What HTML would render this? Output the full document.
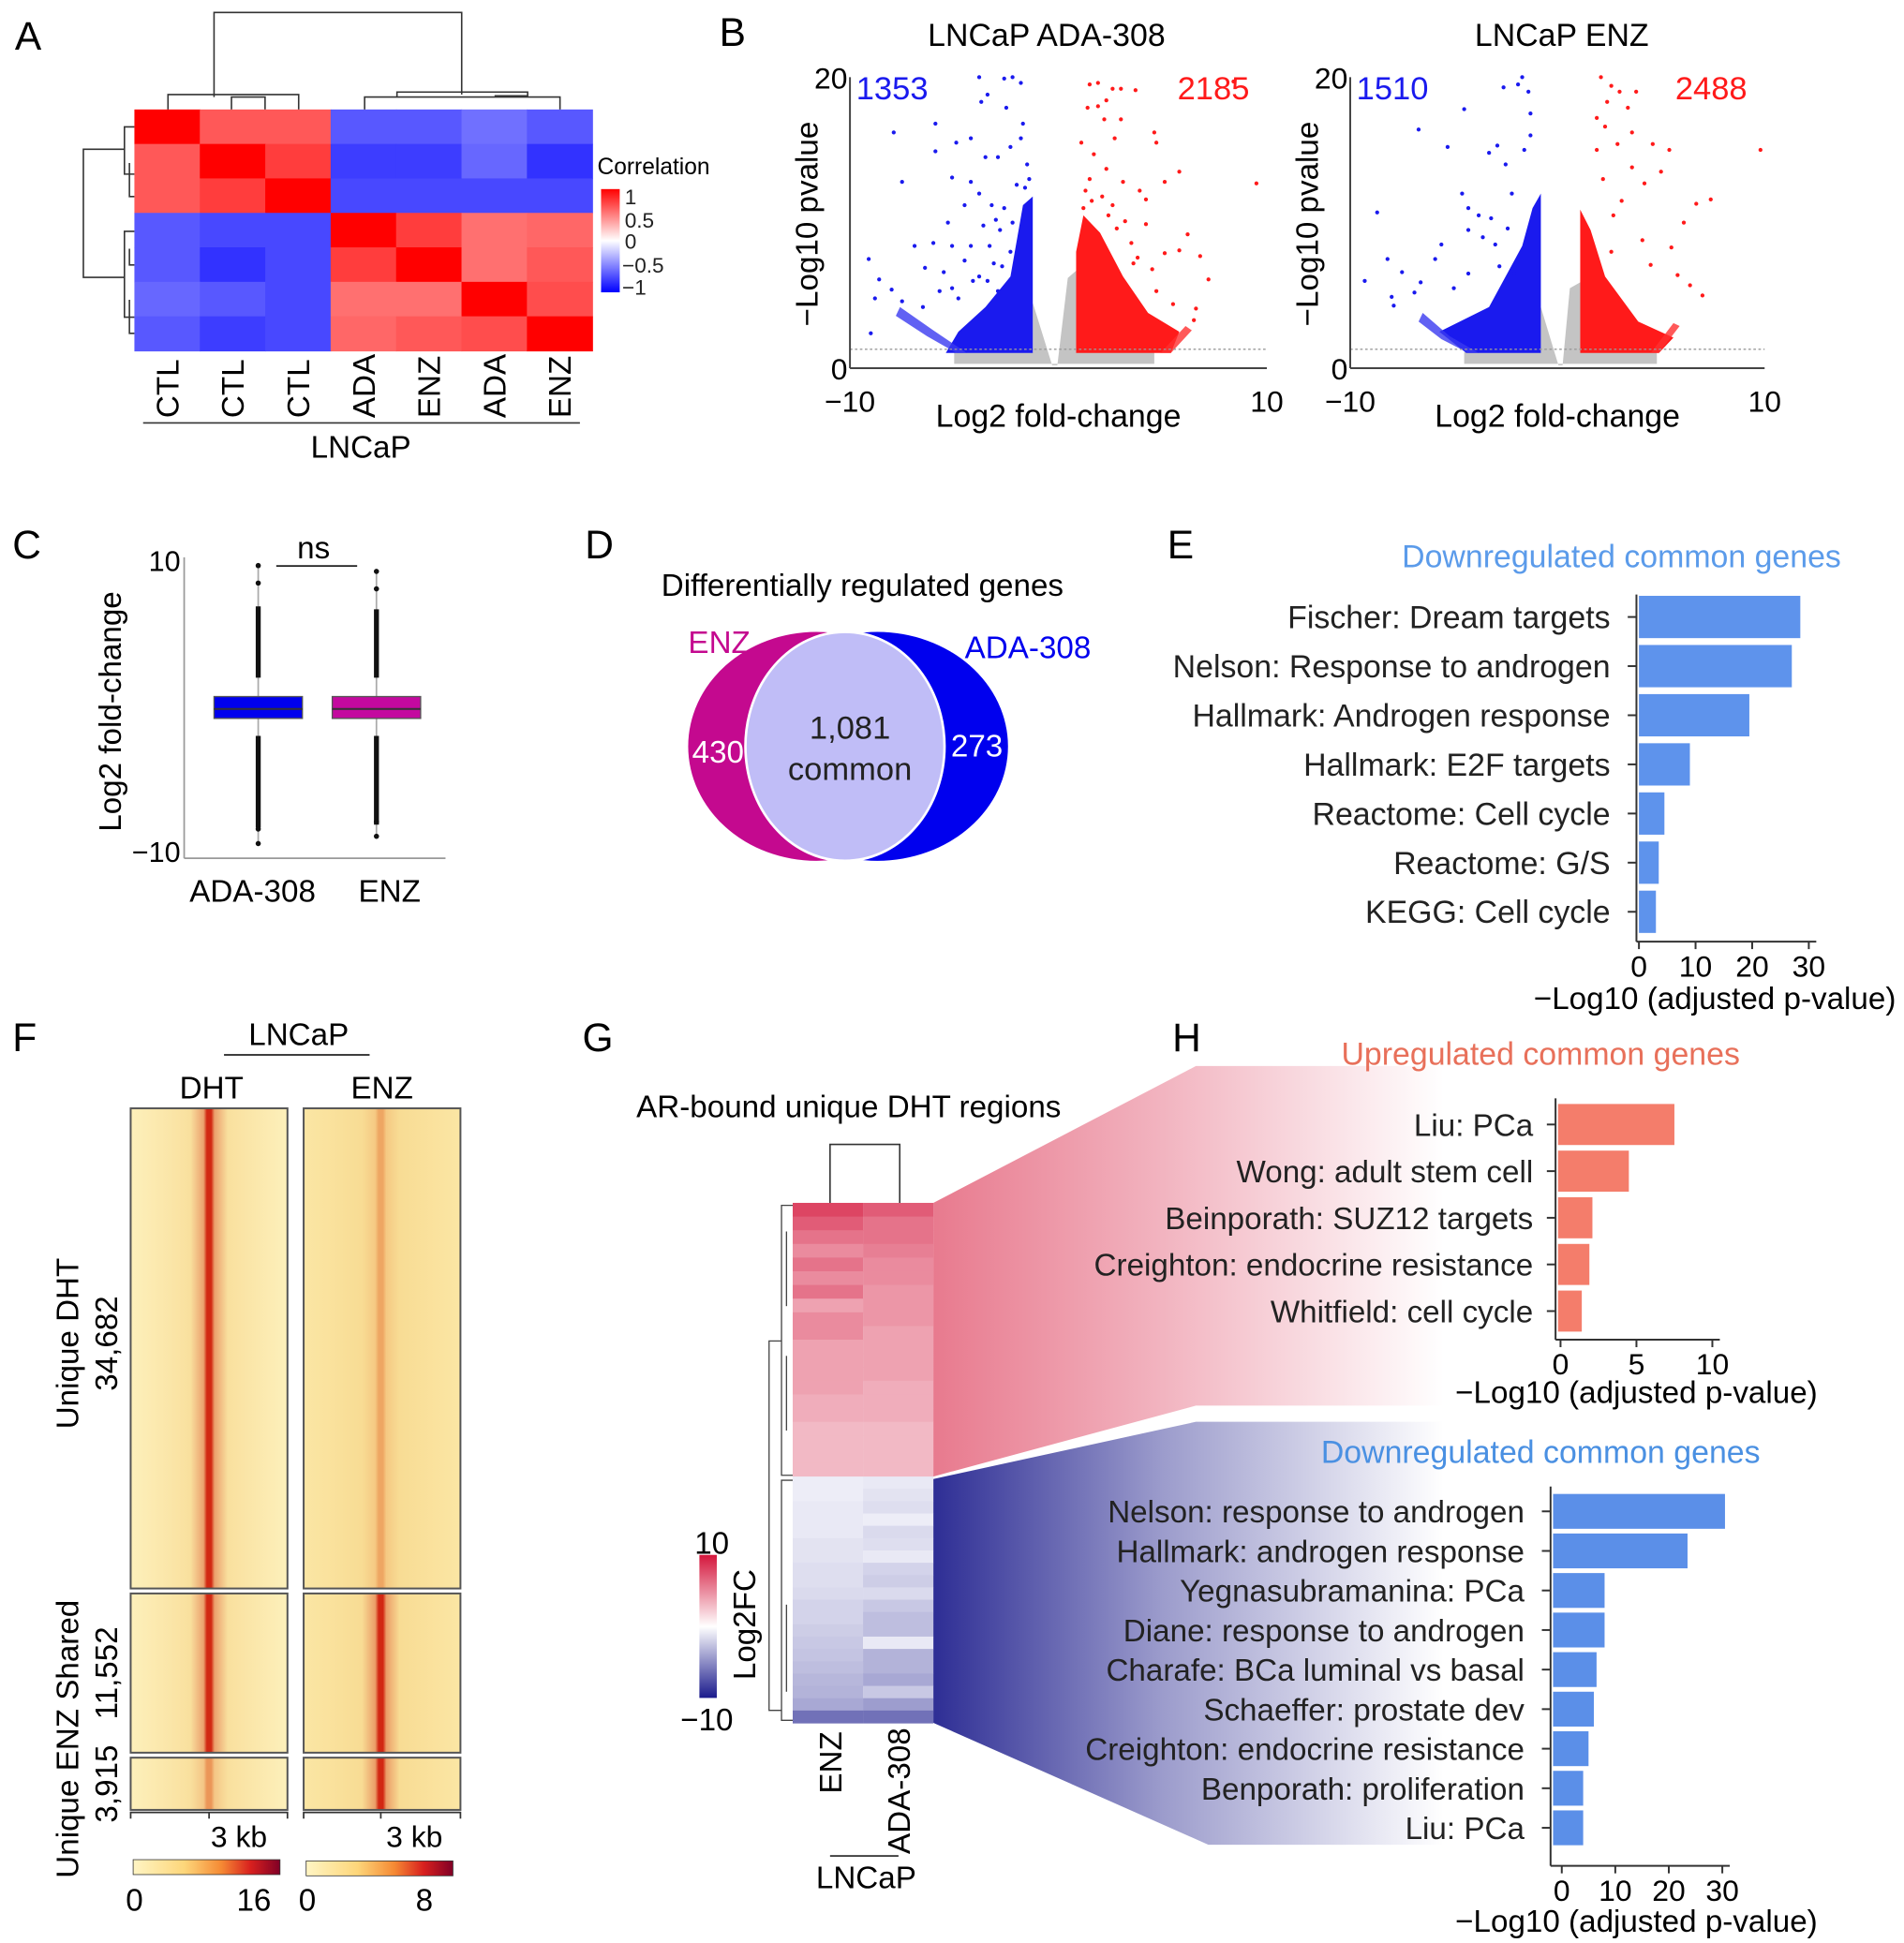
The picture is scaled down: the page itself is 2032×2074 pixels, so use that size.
<!DOCTYPE html>
<html><head><meta charset="utf-8"><style>
html,body{margin:0;padding:0;background:#fff;}
svg{display:block;font-family:"Liberation Sans",sans-serif;}
</style></head><body>
<svg id="fig" width="2032" height="2074" viewBox="0 0 1530 1562" preserveAspectRatio="none" xmlns="http://www.w3.org/2000/svg">
<defs>
<linearGradient id="corrBar" x1="0" y1="0" x2="0" y2="1"><stop offset="0" stop-color="#ff0000"/><stop offset="0.5" stop-color="#ffffff"/><stop offset="1" stop-color="#0000ff"/></linearGradient>
<linearGradient id="lfcBar" x1="0" y1="0" x2="0" y2="1"><stop offset="0" stop-color="#d4163c"/><stop offset="0.5" stop-color="#ffffff"/><stop offset="1" stop-color="#1a1a8c"/></linearGradient>
<linearGradient id="heatBar" x1="0" y1="0" x2="1" y2="0"><stop offset="0" stop-color="#fff5c4"/><stop offset="0.35" stop-color="#fdd67a"/><stop offset="0.6" stop-color="#f58a34"/><stop offset="0.8" stop-color="#d8201e"/><stop offset="1" stop-color="#800026"/></linearGradient>
<linearGradient id="pinkFunnel" x1="0" y1="0" x2="1" y2="0"><stop offset="0" stop-color="#e87a8e"/><stop offset="0.45" stop-color="#f2b4c0"/><stop offset="1" stop-color="#ffffff"/></linearGradient>
<linearGradient id="blueFunnel" x1="0" y1="0" x2="1" y2="0"><stop offset="0" stop-color="#2e2e95"/><stop offset="0.45" stop-color="#9c9ccc"/><stop offset="1" stop-color="#ffffff"/></linearGradient>
</defs>

<text x="12" y="40" font-size="32">A</text>
<text x="578" y="37" font-size="32">B</text>
<text x="10" y="449" font-size="32">C</text>
<text x="470" y="449" font-size="32">D</text>
<text x="938" y="449" font-size="32">E</text>
<text x="10" y="845" font-size="32">F</text>
<text x="468" y="845" font-size="32">G</text>
<text x="942" y="845" font-size="32">H</text>

<g id="panelA">
 <g stroke="#333" stroke-width="1.2" fill="none">
  <path d="M172 78 V10 H371 V76"/>
  <path d="M135 88 V76 H240 V88"/><path d="M186 88 V78 H213 V88"/>
  <path d="M293 88 V78 H450 V88"/><path d="M319 78 V74 H424 V78"/><path d="M398 78 V77 H424"/>
 </g>
 <g stroke="#333" stroke-width="1.2" fill="none">
  <path d="M100 120 H67 V223 H100"/>
  <path d="M108 102 H100 V140 H108"/><path d="M104 131 V158 H108"/>
  <path d="M108 186 H100 V255 H108"/><path d="M104 200 V213 H108"/><path d="M104 241 V268 H108"/>
 </g>
 <g id="corrCells"></g>
 <text x="480" y="140" font-size="18.5">Correlation</text>
 <rect x="483" y="152" width="15" height="83" fill="url(#corrBar)"/>
 <g font-size="17" fill="#222">
  <text x="502" y="164">1</text><text x="502" y="183">0.5</text><text x="502" y="200">0</text><text x="500" y="219">−0.5</text><text x="500" y="237">−1</text>
 </g>
 <g id="corrLabels" font-size="25"></g>
 <line x1="115" y1="340" x2="466" y2="340" stroke="#333" stroke-width="1.2"/>
 <text x="290" y="368" font-size="25" text-anchor="middle">LNCaP</text>
</g>

<g>
 <text x="841" y="37" font-size="25.5" text-anchor="middle">LNCaP ADA-308</text>
 <text x="1255" y="37" font-size="25.5" text-anchor="middle">LNCaP ENZ</text>
 <g id="volc1"></g><g id="volc2"></g>
</g>

<g id="panelC">
 <text transform="translate(97,572) rotate(-90)" font-size="25" text-anchor="middle">Log2 fold-change</text>
 <line x1="148" y1="448" x2="148" y2="690" stroke="#999" stroke-width="1.3"/>
 <line x1="148" y1="690" x2="358" y2="690" stroke="#999" stroke-width="1.3"/>
 <text x="145" y="459" font-size="23" text-anchor="end">10</text>
 <text x="145" y="693" font-size="23" text-anchor="end">−10</text>
 <line x1="222" y1="455" x2="287" y2="455" stroke="#222" stroke-width="1.3"/>
 <text x="252" y="449" font-size="25" text-anchor="middle">ns</text>
 <g id="boxes"></g>
 <text x="203" y="725" font-size="25" text-anchor="middle">ADA-308</text>
 <text x="313" y="725" font-size="25" text-anchor="middle">ENZ</text>
</g>

<g>
 <text x="693" y="479" font-size="25" text-anchor="middle">Differentially regulated genes</text>
 <ellipse cx="656" cy="600" rx="103" ry="92" fill="#c4098f"/>
 <ellipse cx="705" cy="600" rx="105" ry="92" fill="#0000ee"/>
 <ellipse cx="679" cy="600" rx="80" ry="92" fill="#c0bdf7" stroke="#ffffff" stroke-width="2"/>
 <text x="553" y="525" font-size="25" fill="#c4098f">ENZ</text>
 <text x="826" y="529" font-size="25" fill="#0000ee" text-anchor="middle">ADA-308</text>
 <text x="577" y="613" font-size="25" fill="#fff" text-anchor="middle">430</text>
 <text x="785" y="608" font-size="25" fill="#fff" text-anchor="middle">273</text>
 <text x="683" y="594" font-size="26" fill="#222" text-anchor="middle">1,081</text>
 <text x="683" y="627" font-size="26" fill="#222" text-anchor="middle">common</text>
</g>

<g id="panelE">
 <text x="1303" y="456" font-size="25.5" fill="#5b9bea" text-anchor="middle">Downregulated common genes</text>
 <text x="1378" y="811" font-size="25" text-anchor="middle">−Log10 (adjusted p-value)</text>
</g>

<g id="panelF">
 <text x="240" y="840" font-size="25" text-anchor="middle">LNCaP</text>
 <line x1="180" y1="848" x2="297" y2="848" stroke="#222" stroke-width="1.3"/>
 <text x="170" y="883" font-size="25" text-anchor="middle">DHT</text>
 <text x="307" y="883" font-size="25" text-anchor="middle">ENZ</text>
 <g id="fHeat"></g>
 <text x="192" y="1485" font-size="24" text-anchor="middle">3 kb</text>
 <text x="333" y="1485" font-size="24" text-anchor="middle">3 kb</text>
 <rect x="107" y="1495" width="118" height="12" fill="url(#heatBar)" stroke="#333" stroke-width="0.6"/>
 <rect x="246" y="1496" width="118" height="12" fill="url(#heatBar)" stroke="#333" stroke-width="0.6"/>
 <text x="108" y="1536" font-size="25" text-anchor="middle">0</text>
 <text x="204" y="1536" font-size="25" text-anchor="middle">16</text>
 <text x="247" y="1536" font-size="25" text-anchor="middle">0</text>
 <text x="341" y="1536" font-size="25" text-anchor="middle">8</text>
 <text transform="translate(63,1080) rotate(-90)" font-size="25" text-anchor="middle">Unique DHT</text>
 <text transform="translate(94,1080) rotate(-90)" font-size="25" text-anchor="middle">34,682</text>
 <text transform="translate(63,1398) rotate(-90)" font-size="25" text-anchor="middle">Unique ENZ Shared</text>
 <text transform="translate(94,1345) rotate(-90)" font-size="25" text-anchor="middle">11,552</text>
 <text transform="translate(94,1434) rotate(-90)" font-size="25" text-anchor="middle">3,915</text>
</g>

<polygon points="750,967 961,857 1160,857 1160,1130 961,1130 750,1187" fill="url(#pinkFunnel)"/>
<polygon points="750,1189 961,1143 1160,1143 1160,1483 971,1483 750,1385" fill="url(#blueFunnel)"/>

<g id="panelG">
 <text x="682" y="898" font-size="25" text-anchor="middle">AR-bound unique DHT regions</text>
 <path d="M667 967 V920 H723 V967" stroke="#333" fill="none" stroke-width="1.2"/>
 <g stroke="#444" stroke-width="1" fill="none">
  <path d="M628 1078 H618 V1375 H628"/><path d="M637 969 H628 V1186 H637"/><path d="M637 1190 H628 V1383 H637"/>
  <path d="M632 990 V1050"/><path d="M632 1090 V1150"/><path d="M632 1290 V1360"/>
 </g>
 <g id="gCells"></g>
 <rect x="562" y="1250" width="14" height="115" fill="url(#lfcBar)"/>
 <text x="572" y="1249" font-size="25" text-anchor="middle">10</text>
 <text x="568" y="1391" font-size="25" text-anchor="middle">−10</text>
 <text transform="translate(607,1306) rotate(-90)" font-size="25" text-anchor="middle">Log2FC</text>
 <text transform="translate(676,1392) rotate(-90)" font-size="25" text-anchor="end">ENZ</text>
 <text transform="translate(731,1389) rotate(-90)" font-size="25" text-anchor="end">ADA-308</text>
 <line x1="667" y1="1492" x2="722" y2="1492" stroke="#222" stroke-width="1.3"/>
 <text x="696" y="1518" font-size="25" text-anchor="middle">LNCaP</text>
</g>

<g id="panelH">
 <text x="1238" y="856" font-size="25.5" fill="#e8705a" text-anchor="middle">Upregulated common genes</text>
 <text x="1315" y="1128" font-size="25" text-anchor="middle">−Log10 (adjusted p-value)</text>
 <text x="1238" y="1176" font-size="25.5" fill="#4a90e2" text-anchor="middle">Downregulated common genes</text>
 <text x="1315" y="1553" font-size="25" text-anchor="middle">−Log10 (adjusted p-value)</text>
</g>
</svg>

<script>
const corrLabels = ["CTL","CTL","CTL","ADA","ENZ","ADA","ENZ"];
const corrRow1 = [1,0.85,0.85,-0.85,-0.85,-0.8,-0.85];
const corrRow2 = [0.85,1,0.9,-0.9,-0.9,-0.82,-0.92];
const corrRow3 = [0.85,0.9,1,-0.88,-0.88,-0.88,-0.88];
const corrRow4 = [-0.85,-0.88,-0.88,1,0.9,0.8,0.82];
const corrRow5 = [-0.85,-0.92,-0.88,0.9,1,0.8,0.85];
const corrRow6 = [-0.82,-0.85,-0.88,0.8,0.8,1,0.87];
const corrRow7 = [-0.85,-0.9,-0.88,0.82,0.85,0.87,1];
const corrRows = [corrRow1,corrRow2,corrRow3,corrRow4,corrRow5,corrRow6,corrRow7];

const volcTicksX = [-10,10];
const volcTicksY = [0,20];
const adaCounts = [1353,2185];
const enzCounts = [1510,2488];
const pThreshold = 1.3;
const adaBlueDense = [[-1.23,1.05],[-1.23,11.8],[-1.7,11.2],[-2.3,6.3],[-3.5,4.2],[-4.8,2.5],[-5.4,1.05]];
const adaBlueArm = [[-7.6,4.2],[-6,2.6],[-4.4,1.05],[-4.9,1.05],[-6.3,2.2],[-7.8,3.6]];
const adaRedDense = [[0.85,1.05],[0.85,8],[1.2,10.5],[2,9.3],[3.1,6.3],[4.3,3.8],[5.8,2.5],[5.4,1.05]];
const adaRedArm = [[5.4,1.05],[6.4,2.6],[6.1,2.9],[4.9,1.05]];
const adaGray = [[-5,1.1],[-5,0.3],[4.6,0.3],[4.6,1.1],[0.85,1.1],[0.85,6.7],[0.45,6.2],[-0.05,0.2],[-0.3,0.2],[-1.23,4.5],[-1.23,1.1]];
const adaBluePts = [[-3.8,20],[-2.6,19.9],[-2.2,20],[-1.8,19.6],[-3.4,18.8],[-3.7,18.3],[-2.5,17.9],[-5.9,16.8],[-7.9,16.2],[-4.2,15.8],[-4.9,15.5],[-5.9,14.9],[-3.5,14.5],[-2.9,14.5],[-7.5,12.8],[-5.1,13.1],[-4.2,12.8],[-3.8,12],[-3.2,11.2],[-4.5,11.2],[-5.3,10],[-6.9,8.4],[-6,8.6],[-5.1,8.4],[-4.2,8.4],[-3.3,8.4],[-9.1,7.5],[-8.6,6.1],[-8,5.4],[-8.8,4.8],[-6.4,6.9],[-5.5,6.6],[-5.7,5.3],[-5.1,5.5],[-9,2.4],[-7.5,4.6],[-4.5,7.4],[-3.8,6.3],[-3.1,7.2],[-2.3,8],[-2.2,10],[-2,12.6],[-2.3,15.2],[-1.7,16.8],[-1.8,15.8],[-2.8,9.5],[-3.6,9.8],[-4.1,6],[-2.9,5.3],[-6.5,4.2],[-1.5,14],[-1.4,13],[-1.6,12.4],[-2.6,11],[-3,10.2],[-4.8,4.8],[-2.7,7],[-3.4,6]];
const adaRedPts = [[1.5,19.5],[1.9,19.6],[2.6,19.2],[3,19.2],[3.7,19.1],[8.4,19.7],[1.4,17.9],[1.9,18],[2.3,18.4],[2.2,17.1],[3,17.1],[2.7,15.8],[4.6,16.2],[4.7,15.5],[1.1,15.5],[1.7,14.7],[5.8,13.5],[5.1,12.8],[9.5,12.7],[2.3,13.7],[3.1,12.8],[3.9,12.2],[4.2,11.6],[2.6,11.2],[3.2,10.1],[4.2,9.9],[6.2,9.2],[5.1,7.9],[5.8,8.1],[6.8,7.7],[7.2,6.1],[6.6,4.1],[5.5,4.4],[6.5,3.3],[3.5,8.6],[3.8,7.6],[1.5,13],[2.1,11.8],[1.3,12.2],[4.5,6.8],[1.2,11],[1.6,11.5],[2.4,10.5],[2.8,9.6],[3.6,7.2],[4.7,5.3]];
const enzBlueDense = [[-0.8,1.05],[-0.8,12],[-1.2,11],[-1.7,8.4],[-3.3,4.2],[-5.7,2.5],[-4.4,1.05]];
const enzBlueArm = [[-6.5,3.8],[-5.2,2.2],[-3.8,1.05],[-4.3,1.05],[-5.6,2],[-6.7,3.2]];
const enzRedDense = [[1.1,1.05],[1.1,10.9],[1.6,9.5],[2.3,6.3],[3.9,3.2],[5.6,2.1],[4.9,1.05]];
const enzRedArm = [[4.9,1.05],[5.9,2.9],[5.6,3.1],[4.5,1.05]];
const enzGray = [[-4.5,1.1],[-4.5,0.3],[4.8,0.3],[4.8,1.1],[1.1,1.1],[1.1,5.9],[0.6,5.5],[0.25,0.2],[0.05,0.2],[-0.8,4.2],[-0.8,1.1]];
const enzBluePts = [[-1.7,20],[-2.6,19.3],[-1.9,19.5],[-1.4,19],[-1.3,17.5],[-1.3,16],[-4.5,17.8],[-6.7,16.4],[-2.9,15.3],[-5.3,15.2],[-3.3,14.8],[-2.5,14],[-1.6,15],[-4.6,12],[-4.3,11],[-3.8,10.5],[-3.2,10.3],[-2.2,12],[-8.7,10.7],[-4.3,9.5],[-3.6,9],[-3.0,8.5],[-2.4,9.6],[-8.2,7.5],[-9.3,6],[-7.5,6.6],[-5.6,8.5],[-5.9,7.5],[-6.6,5.9],[-8,4.9],[-4.3,6.5],[-2.8,7],[-2.1,6.5],[-5,5.5],[-7.9,4.3],[-6.9,5.2]];
const enzRedPts = [[2.1,20],[2.6,19.4],[3.0,19.0],[3.8,19],[2.4,18.3],[1.9,17.2],[3.4,17.9],[2.3,16.6],[3.6,16.2],[1.9,15],[2.9,15.4],[4.6,15.4],[5.4,15],[9.8,15],[5,13.5],[2.2,13],[3.6,13.8],[4.2,12.7],[6.7,11.3],[6.1,10],[7.4,11.6],[2.7,10.5],[3.1,11.5],[4.1,8.8],[5.5,8.3],[4.5,7.1],[6.4,5.7],[7.0,5.0],[5.8,6.4],[2.6,8.0]];

const boxGroups = ["ADA-308","ENZ"];
const boxQ1 = [-0.9,-0.9];
const boxQ3 = [0.6,0.6];
const boxMedian = [-0.25,-0.25];
const boxWhiskLo = [-9.5,-9.0];
const boxWhiskHi = [9.6,9.2];
const boxOutHiStart = [1.9,1.9];
const boxOutHiEnd = [6.8,6.6];
const boxOutLoStart = [-2.1,-2.1];
const boxOutLoEnd = [-8.4,-8.2];
const boxColors = ["#0000ee","#c4099f"];

const eTerms = ["Fischer: Dream targets","Nelson: Response to androgen","Hallmark: Androgen response","Hallmark: E2F targets","Reactome: Cell cycle","Reactome: G/S","KEGG: Cell cycle"];
const eValues = [28.5,27,19.5,9,4.5,3.5,3];
const eTicks = [0,10,20,30];

const fSections = ["Unique DHT","Shared","Unique ENZ"];
const fDhtPeak = [0.95,0.95,0.3];
const fEnzPeak = [0.2,0.95,0.95];

const gEnz = [8,7,6,5,6,5,6,4,5,5,4,4,4,4,3.5,3.5,3,3,3,3,-0.3,-0.3,-0.5,-0.5,-0.5,-0.8,-0.8,-1,-1,-1.2,-1.5,-1.5,-1.8,-2,-2.2,-2.5,-2.8,-3,-3.5,-6];
const gAda = [7,6,6,5.5,5,5,4.5,4.5,4.5,4,4,4,4,3.5,3.5,3.5,3,3,3,3,-0.5,-0.8,-1,-0.3,-1.2,-1,-0.5,-1.5,-1.8,-1.2,-2,-2.5,-2.5,-0.5,-3,-3,-3.5,-2,-4,-6];

const hUpTerms = ["Liu: PCa","Wong: adult stem cell","Beinporath: SUZ12 targets","Creighton: endocrine resistance","Whitfield: cell cycle"];
const hUpValues = [7.5,4.5,2.1,1.9,1.4];
const hUpTicks = [0,5,10];
const hDownTerms = ["Nelson: response to androgen","Hallmark: androgen response","Yegnasubramanina: PCa","Diane: response to androgen","Charafe: BCa luminal vs basal","Schaeffer: prostate dev","Creighton: endocrine resistance","Benporath: proliferation","Liu: PCa"];
const hDownValues = [30.5,23.5,8,8,6.5,6,5,4,4];
const hDownTicks = [0,10,20,30];

const NS = "http://www.w3.org/2000/svg";
function el(tag, parent, attrs){
  const e = document.createElementNS(NS, tag);
  for (const k in attrs) e.setAttribute(k, attrs[k]);
  parent.appendChild(e);
  return e;
}
function toRgb(c){ return Array.isArray(c) ? c : [parseInt(c.substr(1,2),16),parseInt(c.substr(3,2),16),parseInt(c.substr(5,2),16)]; }
function mixArr(c1, c2, t){ const a=toRgb(c1), b=toRgb(c2); return a.map((v,i)=>Math.round(v+(b[i]-v)*t)); }
function rgbStr(a){ return "rgb("+a.join(",")+")"; }
function mixHex(c1,c2,t){ return rgbStr(mixArr(c1,c2,t)); }

(function(){
  const g = document.getElementById("corrCells");
  const x0=108, y0=88, cw=(476-108)/7, ch=(282-88)/7;
  const colX = i => x0 + i*cw;
  const rowY = j => y0 + j*ch;
  const corrColor = v => v>=0 ? mixHex("#ffffff","#ff0000",Math.pow(v,2.6)) : mixHex("#ffffff","#0000ff",Math.pow(-v,2.6));
  corrRows.forEach((row,j)=>row.forEach((v,i)=>{
    const r = el("rect", g, {x:colX(i), y:rowY(j), width:cw+0.5, height:ch+0.5, fill:corrColor(v)});
    
    
  }));
  const lg = document.getElementById("corrLabels");
  corrLabels.forEach((lab,i)=>{
    const t = el("text", lg, {transform:"translate("+(colX(i)+cw/2+9)+",336) rotate(-90)"});
    t.textContent = lab;
    
    
  });
})();

function drawVolcano(gid, x0, x1, counts, blueDense, blueArm, redDense, redArm, gray, bluePts, redPts, yTitleX){
  const g = document.getElementById(gid);
  const yTop=62, yBot=296;
  const vx = x => x0 + (x+10)/20*(x1-x0);
  const vy = y => yBot - y/20*(yBot-yTop);
  const poly = (pts, fill, name, op) => {
    const p = el("polygon", g, {points: pts.map(q=>vx(q[0])+","+vy(q[1])).join(" "), fill:fill, "fill-opacity":op});
    
    
  };
  poly(gray, "#c4c4c4", "nonsignificant-points", 1);
  poly(blueDense, "#1a1aee", "downregulated-dense-points", 1);
  poly(blueArm, "#3a3af0", "downregulated-arm-points", 0.8);
  poly(redDense, "#ff1a1a", "upregulated-dense-points", 1);
  poly(redArm, "#ff3030", "upregulated-arm-points", 0.8);
  bluePts.forEach(p=>{
    const c = el("circle", g, {cx:vx(p[0]), cy:vy(p[1]), r:1.6, fill:"#1a1aee"});
    
    
  });
  redPts.forEach(p=>{
    const c = el("circle", g, {cx:vx(p[0]), cy:vy(p[1]), r:1.6, fill:"#ff1a1a"});
    
    
  });
  const th = el("line", g, {x1:x0, x2:x1, y1:vy(pThreshold), y2:vy(pThreshold), stroke:"#999", "stroke-width":1, "stroke-dasharray":"2,2"});
  
  
  const ya = el("line", g, {x1:x0, x2:x0, y1:yTop, y2:yBot, stroke:"#444", "stroke-width":1.5});
  
  
  const xa = el("line", g, {x1:x0, x2:x1, y1:yBot, y2:yBot, stroke:"#444", "stroke-width":1.5});
  
  
  volcTicksY.forEach(v=>{
    const t = el("text", g, {x:x0-2, y:vy(v)+9, "font-size":24, "text-anchor":"end"});
    t.textContent = v;
    
    
  });
  volcTicksX.forEach(v=>{
    const t = el("text", g, {x:vx(v), y:331, "font-size":24, "text-anchor":"middle"});
    t.textContent = v<0 ? "−"+Math.abs(v) : v;
    
    
  });
  const c1 = el("text", g, {x:x0+5, y:80, "font-size":26, fill:"#1a1aee"});
  c1.textContent = counts[0];
  
  
  const c2 = el("text", g, {x:x1-14, y:80, "font-size":26, fill:"#ff1a1a", "text-anchor":"end"});
  c2.textContent = counts[1];
  
  
  const yt = el("text", g, {transform:"translate("+yTitleX+",180) rotate(-90)", "font-size":25, "text-anchor":"middle"});
  yt.textContent = "−Log10 pvalue";
  
  
  const xt = el("text", g, {x:(x0+x1)/2, y:343, "font-size":25.5, "text-anchor":"middle"});
  xt.textContent = "Log2 fold-change";
  
  
}
drawVolcano("volc1", 683, 1018, adaCounts, adaBlueDense, adaBlueArm, adaRedDense, adaRedArm, adaGray, adaBluePts, adaRedPts, 657);
drawVolcano("volc2", 1085, 1418, enzCounts, enzBlueDense, enzBlueArm, enzRedDense, enzRedArm, enzGray, enzBluePts, enzRedPts, 1059);

(function(){
  const g = document.getElementById("boxes");
  const by = v => 567 - v*11.7;
  const bx = i => 207.5 + i*95;
  boxGroups.forEach((name,i)=>{
    const cx = bx(i);
    const w = el("line", g, {x1:cx, x2:cx, y1:by(boxWhiskHi[i]), y2:by(boxWhiskLo[i]), stroke:"#aaa", "stroke-width":1.3});
    
    
    const oh = el("line", g, {x1:cx, x2:cx, y1:by(boxOutHiEnd[i]), y2:by(boxOutHiStart[i]), stroke:"#111", "stroke-width":4});
    
    
    const ol = el("line", g, {x1:cx, x2:cx, y1:by(boxOutLoStart[i]), y2:by(boxOutLoEnd[i]), stroke:"#111", "stroke-width":4});
    
    
    [boxWhiskHi[i], boxWhiskHi[i]-1.2, boxWhiskLo[i], boxWhiskLo[i]+1].forEach(v=>{
      const d = el("circle", g, {cx:cx, cy:by(v), r:2.1, fill:"#111"});
      
      
    });
    const b = el("rect", g, {x:cx-35.5, y:by(boxQ3[i]), width:71, height:by(boxQ1[i])-by(boxQ3[i]), fill:boxColors[i], stroke:"#555", "stroke-width":1});
    
    
    const m = el("line", g, {x1:cx-35.5, x2:cx+35.5, y1:by(boxMedian[i]), y2:by(boxMedian[i]), stroke:"#333", "stroke-width":1.5});
    
    
  });
})();

function drawBars(gid, terms, values, ticks, axX, xScale, rowY0, rowStep, barH, axTop, axBot, color, labelX, fs){
  const g = document.getElementById(gid);
  const ya = el("line", g, {x1:axX, x2:axX, y1:axTop, y2:axBot, stroke:"#333", "stroke-width":1.5});
  
  
  const xEnd = xScale(ticks[ticks.length-1]) + 6;
  const xa = el("line", g, {x1:axX, x2:xEnd, y1:axBot, y2:axBot, stroke:"#333", "stroke-width":1.5});
  
  
  terms.forEach((term,i)=>{
    const cy = rowY0 + i*rowStep;
    const b = el("rect", g, {x:axX+2, y:cy-barH/2, width:xScale(values[i])-axX-2, height:barH, fill:color});
    
    
    const tk = el("line", g, {x1:axX-7, x2:axX, y1:cy, y2:cy, stroke:"#333", "stroke-width":1.5});
    
    
    const t = el("text", g, {x:labelX, y:cy+9, "font-size":fs, "text-anchor":"end", fill:"#222"});
    t.textContent = term;
    
    
  });
  ticks.forEach(v=>{
    const tk = el("line", g, {x1:xScale(v), x2:xScale(v), y1:axBot, y2:axBot+6, stroke:"#333", "stroke-width":1.5});
    
    
    const t = el("text", g, {x:xScale(v), y:axBot+28, "font-size":24, "text-anchor":"middle"});
    t.textContent = v;
    
    
  });
}
drawBars("panelE", eTerms, eValues, eTicks, 1315, v=>1317+v*4.55, 496, 39.5, 34, 478, 757, "#5e93ec", 1294, 25.5);
drawBars("panelH", hUpTerms, hUpValues, hUpTicks, 1250, v=>1254+v*12.2, 904, 37.5, 33, 883, 1077, "#f47d6b", 1232, 25);
drawBars("panelH", hDownTerms, hDownValues, hDownTicks, 1246, v=>1255+v*4.3, 1215, 31.8, 28, 1195, 1500, "#5b8fe8", 1225, 25);

(function(){
  const g = document.getElementById("fHeat");
  const secTop = [891,1281,1413];
  const secBot = [1277,1409,1455];
  const cols = [{x:105, peak:fDhtPeak, c:168, name:'dht', base:"#fdf0bb"},{x:244, peak:fEnzPeak, c:306, name:'enz', base:"#fbe6a4"}];
  const defs = document.querySelector("defs");
  cols.forEach((col,ci)=>{
    fSections.forEach((s,si)=>{
      const id = "fg"+ci+"_"+si;
      const lg = el("linearGradient", defs, {id:id, x1:"0", x2:"1", y1:"0", y2:"0"});
      const w = 126;
      const pc = (col.c - col.x)/w;
      const pk = col.peak[si];
      const peakCol = mixArr("#f6c878", "#d0200e", pk);
      const base = col.base;
      const halo = mixArr(base, "#f6d68a", 0.6);
      const stops = [[0,base],[pc-0.12,halo],[pc-0.035,mixArr(halo,peakCol,0.35)],[pc-0.014,peakCol],[pc+0.014,peakCol],[pc+0.035,mixArr(halo,peakCol,0.35)],[pc+0.12,halo],[1,base]];
      stops.forEach(st=>{
        el("stop", lg, {offset:Math.max(0,Math.min(1,st[0])), "stop-color":rgbStr(toRgb(st[1]))});
      });
      const r = el("rect", g, {x:col.x, y:secTop[si], width:w, height:secBot[si]-secTop[si], fill:"url(#"+id+")", stroke:"#555", "stroke-width":1.5});
      
      
    });
    const ax = el("path", g, {d:"M"+col.x+" 1462 V1457 H"+(col.x+126)+" V1462 M"+(col.c)+" 1457 V1462", stroke:"#333", fill:"none", "stroke-width":1.3});
    
    
  });
})();

(function(){
  const g = document.getElementById("gCells");
  const rowY = i => i<20 ? 967 + i*11 : 1187 + (i-20)*9.9;
  const rowH = i => i<20 ? 11.5 : 10.4;
  const lfcColor = v => v>=0 ? mixHex("#ffffff","#d4163c",Math.min(1,v/10)) : mixHex("#f4f4fa","#1a1a8c",Math.min(1,-v/10));
  const colVals = [gEnz, gAda];
  colVals.forEach((vals,ci)=>{
    vals.forEach((v,i)=>{
      const r = el("rect", g, {x:637+ci*56.5, y:rowY(i), width:56.5, height:rowH(i), fill:lfcColor(v)});
      
      
    });
  });
})();
</script>
</body></html>
